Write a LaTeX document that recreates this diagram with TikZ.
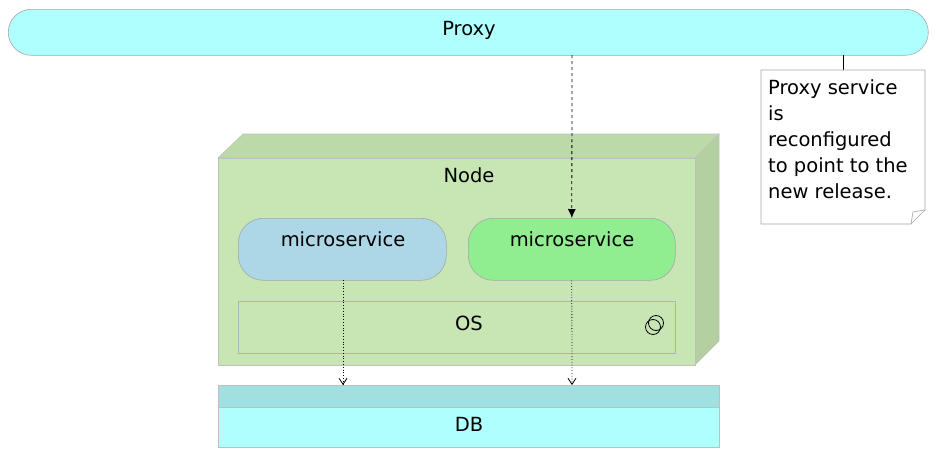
\documentclass[tikz,border=0pt]{standalone}
\usepackage{fontspec}
\setmainfont{DejaVu Sans}
\usetikzlibrary{arrows.meta}
\definecolor{cy}{HTML}{B0FFFF}
\definecolor{cyb}{HTML}{A0E0E0}
\definecolor{nf}{HTML}{C8E6B4}
\definecolor{ns}{HTML}{B4D0A0}
\definecolor{nt}{HTML}{BCDAA8}
\begin{document}
\begin{tikzpicture}[x=1pt,y=-1pt,
  txt/.style={font=\fontsize{19.5}{26}\selectfont},
  edge/.style={draw=gray!70, line width=0.6pt}]
\useasboundingbox (0,0) rectangle (938,458);
% Proxy
\node[edge, fill=cy, rounded corners=23pt, minimum width=920pt, minimum height=46pt, anchor=north west] (proxy) at (8,9) {};
\node[txt] (proxyt) at (469,30) {Proxy};
% note
\coordinate (ntop) at (843,70);
\draw (843,55) -- (ntop);
\draw[edge, fill=white] (761,70) -- (925,70) -- (925,210) -- (911,224) -- (761,224) -- cycle;
\draw[edge] (925,210) -- (913,212) -- (911,224);
\node[txt, anchor=north west, align=left, inner sep=0pt] (note) at (768,79) {Proxy service\\is\\reconfigured\\to point to the\\new release.};
% Node box
\draw[edge, draw=gray!50, fill=nt] (218,158) -- (243,134) -- (719,134) -- (695,158) -- cycle;
\draw[edge, draw=gray!50, fill=ns] (695,158) -- (719,134) -- (719,341) -- (695,365) -- cycle;
\draw[edge, draw=gray!50, fill=nf] (218,158) rectangle (695,365);
\node[txt] (nodet) at (469,175) {Node};
% microservices
\node[edge, fill={rgb,255:red,173;green,214;blue,230}, rounded corners=25pt, minimum width=208pt, minimum height=62pt, anchor=north west] (ms1) at (238,218) {};
\node[txt] at (343,239) {microservice};
\node[edge, fill={rgb,255:red,144;green,238;blue,144}, rounded corners=25pt, minimum width=207pt, minimum height=62pt, anchor=north west] (ms2) at (468,218) {};
\node[txt] at (572,239) {microservice};
% OS
\node[draw=gray!60, fill=nf, minimum width=437pt, minimum height=52pt, anchor=north west] (os) at (238,301) {};
\node[txt] at (469,323) {OS};
\draw[line width=0.8pt] (656,323) circle (7.5pt);
\draw[line width=0.8pt] (653,327) circle (7.5pt);
% DB
\draw[edge, draw=gray!50, fill=cy] (218,385) rectangle (719,447);
\draw[edge, draw=gray!50, fill=cyb] (218,385) rectangle (719,407);
\node[txt] (db) at (469,424) {DB};
% arrows
\draw[dashed, line width=0.8pt, -{Latex[length=9pt,width=8pt]}] (572,55) -- (ms2.north);
\draw[dotted, line width=0.8pt, -{Straight Barb[length=6pt,width=8pt]}] (343,280) -- (343,385);
\draw[dotted, line width=0.8pt, -{Straight Barb[length=6pt,width=8pt]}] (ms2.south) -- (572,385);
\end{tikzpicture}
\end{document}
